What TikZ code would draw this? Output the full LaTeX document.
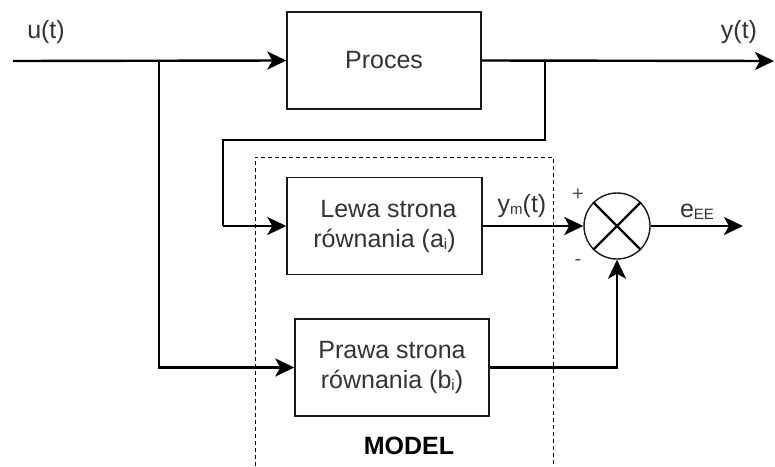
\documentclass[tikz,border=0pt]{standalone}
\usepackage{fontspec}
\setmainfont{Liberation Sans}
\usetikzlibrary{arrows.meta}
\newcommand{\lowsub}[1]{\raisebox{-2pt}{\fontsize{15}{15}\selectfont #1}}
\tikzset{
  blk/.style={draw=black!90, line width=1.4pt, fill=white, text=black!80,
    align=center, inner sep=0pt, font=\fontsize{25}{30}\selectfont},
  conn/.style={draw=black, line width=2.4pt,
    -{Stealth[length=19pt, width=18pt, inset=5pt]}},
  wire/.style={draw=black, line width=2.4pt},
  lbl/.style={text=black!80, inner sep=0pt, font=\fontsize{25}{30}\selectfont},
  sign/.style={text=black!70, inner sep=0pt, font=\fontsize{20}{20}\selectfont},
  frame/.style={draw=black, line width=1pt, dash pattern=on 4pt off 3pt},
}
\begin{document}
\begin{tikzpicture}[x=1pt, y=-1pt]
  \useasboundingbox (0,0) rectangle (775,466);

  % dashed frame of the model (open at the bottom)
  \draw[frame] (255,466) -- (255,157) -- (553,157) -- (553,466);

  % blocks
  \node[blk, minimum width=194pt, minimum height=97pt] (proc) at (384,60.5) {Proces};
  \node[blk, minimum width=195pt, minimum height=97pt] (lewa) at (384.5,226)
    {\hspace*{8pt}Lewa strona\\ równania (a\lowsub{i})};
  \node[blk, minimum width=194pt, minimum height=97pt] (prawa) at (392,367.5)
    {Prawa strona\\ równania (b\lowsub{i})};
  \node[draw=black!90, line width=1.4pt, circle, minimum size=66pt, inner sep=0pt] (sum) at (617,226) {};
  \draw[line width=2.2pt] (sum.north west) -- (sum.south east);
  \draw[line width=2.2pt] (sum.north east) -- (sum.south west);

  % free ends and branch points
  \coordinate (uin) at (13,61);
  \coordinate (yout) at (774,61);
  \coordinate (bu) at (159,61);
  \coordinate (by) at (545,61);
  \coordinate (fb1) at (545,140);
  \coordinate (fb2) at (223,140);
  \coordinate (fb3) at (223,226);
  \coordinate (eout) at (743,226);

  % signal paths
  \draw[conn] (uin) -- (proc.west);
  \draw[conn] (proc.east) -- (yout);
  \draw[conn] (bu) |- (prawa.west);
  \draw[wire] (by) -- (fb1) -- (fb2) -- (fb3);
  \draw[conn] (fb3) -- (lewa.west);
  \draw[conn] (lewa.east) -- (sum.west);
  \draw[conn] (prawa.east) -| (sum.south);
  \draw[conn] (sum.east) -- (eout);

  % labels
  \node[lbl] (lu) at (46,32) {u(t)};
  \node[lbl] (ly) at (739,32) {y(t)};
  \node[lbl] (lym) at (522,206) {y\lowsub{m}(t)};
  \node[lbl] (lee) at (697,212) {e\lowsub{EE}};
  \node[sign] (lplus) at (578,195) {+};
  \node[sign] (lminus) at (578,262) {-};
  \node[inner sep=0pt, font=\fontsize{25}{30}\selectfont\bfseries] (lmodel) at (409,446) {MODEL};
\end{tikzpicture}
\end{document}
